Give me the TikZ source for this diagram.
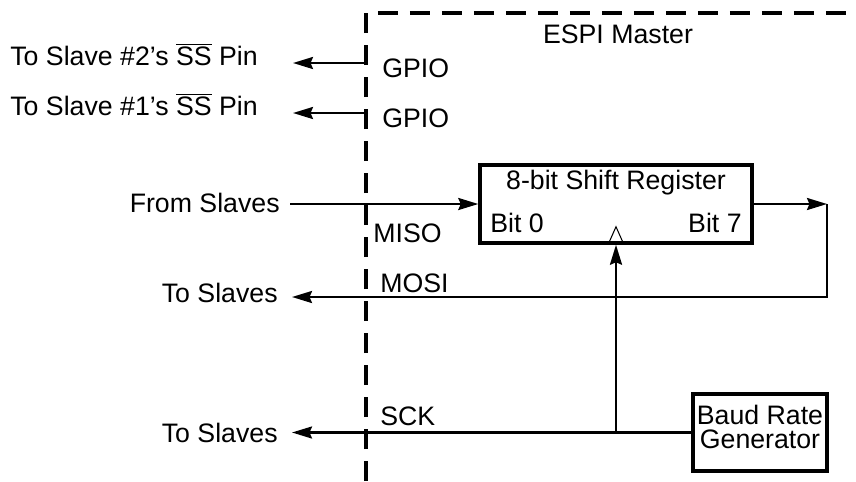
\documentclass[tikz,border=0pt]{standalone}
\usepackage{fontspec}
\setmainfont{Liberation Sans}
\usetikzlibrary{arrows.meta,positioning}

\begin{document}
\begin{tikzpicture}[x=0.02cm, y=-0.02cm,
    >={Stealth[length=0.4cm, width=0.24cm, inset=0.05cm]},
    every node/.style={font=\fontsize{15.2}{14}\selectfont, inner sep=0pt},
    lbl/.style={anchor=base west},
    lblr/.style={anchor=base east},
    wire/.style={line width=1.4pt},
    blk/.style={draw, rectangle, line width=2pt}]
    \useasboundingbox (0,0) rectangle (856,481);
    % master boundary
    \draw[line width=2pt, dash pattern=on 0.4cm off 0.24cm] (366,481) -- (366,13) -- (856,13);
    \node[anchor=base] (title) at (618,43) {ESPI Master};

    % blocks
    \node[blk, minimum width=5.44cm, minimum height=1.56cm] (sr) at (616,204) {};
    \node[anchor=base] (srname) at (616,189) {8-bit Shift Register};
    \node[lbl] (bit0) at (490,232) {Bit 0};
    \node[lblr] (bit7) at (742,232) {Bit 7};
    \node[blk, minimum width=2.68cm, minimum height=1.54cm] (baud) at (760,432.5) {};
    \node[align=center] (baudtxt) at (760,427) {Baud Rate\\Generator};

    % pin names and outside labels
    \node[lbl] (ss2) at (10,65) {To Slave \#2’s $\overline{\mbox{SS}}$ Pin};
    \node[lbl] (gpio2) at (382,77) {GPIO};
    \node[lbl] (ss1) at (10,115) {To Slave \#1’s $\overline{\mbox{SS}}$ Pin};
    \node[lbl] (gpio1) at (382,127) {GPIO};
    \node[lblr] (from) at (280,212) {From Slaves};
    \node[lbl] (miso) at (373,242) {MISO};
    \node[lblr] (tomosi) at (278,302) {To Slaves};
    \node[lbl] (mosi) at (380,292) {MOSI};
    \node[lblr] (tosck) at (278,442) {To Slaves};
    \node[lbl] (sck) at (380,425) {SCK};

    % line ends
    \coordinate (g2in) at (368,63);
    \coordinate (g2out) at (293,63);
    \coordinate (g1in) at (368,113);
    \coordinate (g1out) at (293,113);
    \coordinate (misoin) at (290,204);
    \coordinate (loop) at (827,204);
    \coordinate (mosiout) at (292,297);
    \coordinate (sckout) at (292,432.5);
    \coordinate (clk) at (sr.south |- baud.west);

    % connections
    \draw[wire,->] (g2in) -- (g2out);
    \draw[wire,->] (g1in) -- (g1out);
    \draw[wire,->] (misoin) -- (sr.west);
    \draw[wire,->] (sr.east) -- (loop);
    \draw[wire,->] (loop) |- (mosiout);
    \draw[wire,->] (baud.west) -- (sckout);
    \draw[wire,->] (clk) -- (sr.south);
    % clock input mark
    \draw[line width=0.6pt] (sr.south) ++(-8,0) -- ++(8,-18) -- ++(8,18);
\end{tikzpicture}
\end{document}
